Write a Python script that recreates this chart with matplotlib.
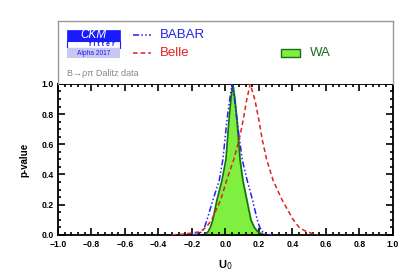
import numpy as np
import matplotlib.pyplot as plt
from matplotlib.patches import Rectangle

# p-value curves
wa_x = [-0.14, -0.12, -0.104, -0.09, -0.075, -0.051, -0.021, 0.003, 0.021, 0.033, 0.044,
        0.056, 0.069, 0.087, 0.104, 0.128, 0.152, 0.172, 0.194, 0.22, 0.24]
wa_p = [0.0, 0.005, 0.02, 0.05, 0.10, 0.23, 0.36, 0.50, 0.76, 0.90, 1.0,
        0.90, 0.76, 0.50, 0.36, 0.23, 0.10, 0.05, 0.02, 0.005, 0.0]

babar_x = [-0.20, -0.17, -0.14, -0.125, -0.11, -0.075, -0.037, -0.015, 0.009, 0.026, 0.040,
           0.054, 0.069, 0.10, 0.13, 0.162, 0.19, 0.205, 0.222, 0.25, 0.28]
babar_p = [0.0, 0.005, 0.02, 0.05, 0.10, 0.23, 0.36, 0.50, 0.76, 0.90, 1.0,
           0.90, 0.76, 0.50, 0.36, 0.23, 0.10, 0.05, 0.02, 0.003, 0.0]

belle_x = [-0.32, -0.25, -0.152, -0.115, -0.082, -0.029, 0.007, 0.05, 0.082, 0.106, 0.127,
           0.148, 0.176, 0.20, 0.22, 0.246, 0.285, 0.339, 0.405, 0.44, 0.485, 0.55]
belle_p = [0.0, 0.005, 0.02, 0.05, 0.10, 0.23, 0.36, 0.50, 0.63, 0.76, 0.894,
           1.0, 0.894, 0.76, 0.63, 0.50, 0.36, 0.23, 0.10, 0.05, 0.02, 0.0]

x_ticks = [-1.0, -0.8, -0.6, -0.4, -0.2, 0.0, 0.2, 0.4, 0.6, 0.8, 1.0]
y_ticks = [0.0, 0.2, 0.4, 0.6, 0.8, 1.0]

blue = '#2222ee'
red = '#dd2222'
green_fill = '#80f040'
green_line = '#1a6e1a'

plt.rcParams['font.family'] = ['Liberation Sans', 'DejaVu Sans']

fig = plt.figure(figsize=(4.14, 2.76), dpi=100)
ax = fig.add_axes([0.140, 0.149, 0.809, 0.547])
leg = fig.add_axes([0.140, 0.696, 0.809, 0.228])

# main plot
ax.fill_between(wa_x, wa_p, color=green_fill, zorder=1)
ax.plot(wa_x, wa_p, color=green_line, lw=1.2, zorder=2)
ax.plot(babar_x, babar_p, color=blue, lw=1.1,
        linestyle=(0, (4, 1.5, 1, 1.5, 1, 1.5)), zorder=3)
ax.plot(belle_x, belle_p, color=red, lw=1.1,
        linestyle=(0, (3, 2)), zorder=3)

ax.set_xlim(-1, 1)
ax.set_ylim(0, 1)
ax.set_xticks(x_ticks)
ax.set_yticks(y_ticks)
ax.set_xticklabels(['%.1f' % v if v >= 0 else '\u2212%.1f' % -v for v in x_ticks],
                   fontsize=6.2, fontweight='bold')
ax.set_yticklabels(['%.1f' % v for v in y_ticks], fontsize=6.2, fontweight='bold')
ax.set_xticks(np.arange(-1.0, 1.001, 0.04), minor=True)
ax.set_yticks(np.arange(0.0, 1.001, 0.05), minor=True)
ax.tick_params(which='both', direction='in', top=True, right=True, width=1.2)
ax.tick_params(axis='x', pad=4)
ax.tick_params(axis='y', pad=3)
ax.tick_params(which='major', length=5)
ax.tick_params(which='minor', length=2.5)
for s in ax.spines.values():
    s.set_linewidth(1.3)
ax.set_xlabel('U$_0$', fontsize=8, fontweight='bold', labelpad=6)
ax.set_ylabel('p-value', fontsize=7, fontweight='bold', labelpad=9)

# legend box
leg.set_xlim(0, 1)
leg.set_ylim(0, 1)
leg.set_xticks([])
leg.set_yticks([])
for name, s in leg.spines.items():
    s.set_color('#999999')
    s.set_linewidth(1.0)
leg.spines['bottom'].set_visible(False)

# CKMfitter logo
leg.add_patch(Rectangle((0.027, 0.683), 0.158, 0.174, facecolor='#1a1aff',
                        edgecolor='#1a1aff', lw=0.5))
leg.text(0.106, 0.775, 'CKM', color='white', fontsize=8.5, style='italic',
         ha='center', va='center')
leg.add_patch(Rectangle((0.027, 0.571), 0.158, 0.112, facecolor='white',
                        edgecolor='#1a1aff', lw=0.8))
leg.text(0.13, 0.622, 'f i t t e r', color='#1a1aff', fontsize=5,
         fontweight='bold', ha='center', va='center')
leg.add_patch(Rectangle((0.027, 0.413), 0.158, 0.158, facecolor='#c8c8f0',
                        edgecolor='none'))
leg.text(0.106, 0.49, 'Alpha 2017', color='#1a1aff', fontsize=4.8,
         ha='center', va='center')

leg.plot([0.224, 0.278], [0.778, 0.778], color=blue, lw=1.1,
         linestyle=(0, (4, 1.5, 1, 1.5, 1, 1.5)))
leg.text(0.304, 0.778, 'BABAR', color=blue, fontsize=9.5, va='center')
leg.plot([0.224, 0.278], [0.49, 0.49], color=red, lw=1.1, linestyle=(0, (3, 2)))
leg.text(0.304, 0.49, 'Belle', color=red, fontsize=9.5, va='center')
leg.add_patch(Rectangle((0.666, 0.43), 0.056, 0.126, facecolor=green_fill,
                        edgecolor=green_line, lw=1.0))
leg.text(0.752, 0.49, 'WA', color=green_line, fontsize=9.5, va='center')
leg.text(0.027, 0.16, 'B\u2192\u03c1\u03c0 Dalitz data', color='#888888',
         fontsize=6.5, va='center')

fig.savefig('out.png', dpi=100)
